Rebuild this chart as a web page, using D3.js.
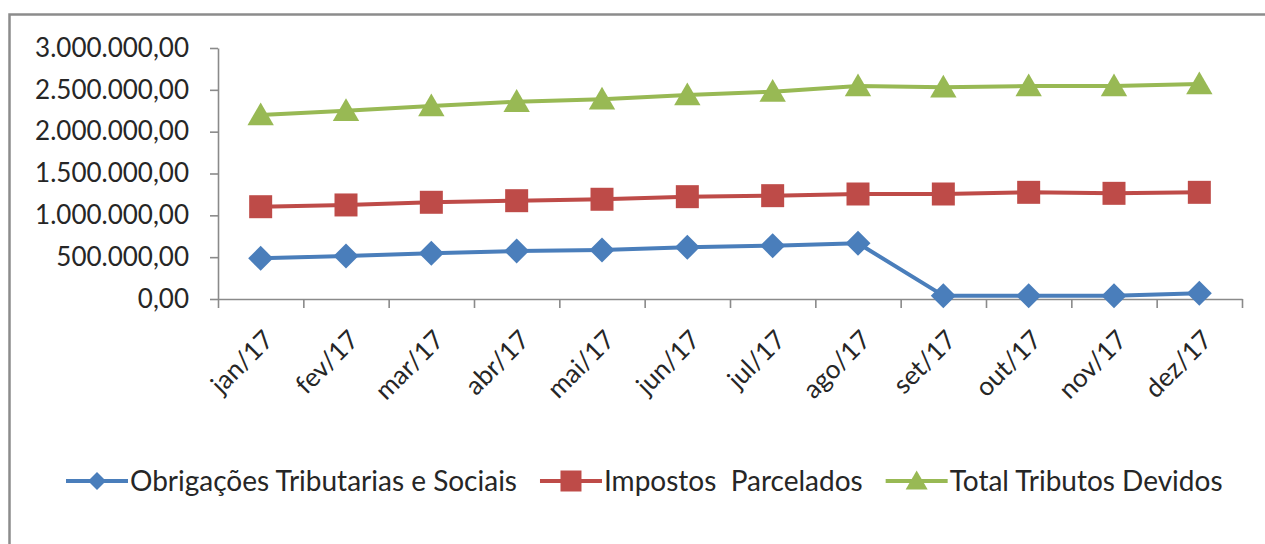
<!DOCTYPE html>
<html lang="pt">
<head>
  <meta charset="UTF-8">
  <title>Tributos 2017</title>
  <style>
    body { margin: 0; background: #fff; }
    svg { display: block; }
    text { font-family: Lato, "Open Sans", sans-serif; fill: #262626; }
    .axis path, .axis line { stroke: #8a8a8a; stroke-width: 1.6; }
  </style>
</head>
<body>
  <svg id="chart" width="1265" height="544"></svg>
  <script src="https://d3js.org/d3.v7.min.js"></script>
  <script>
    // data
    const months = ["jan/17", "fev/17", "mar/17", "abr/17", "mai/17", "jun/17",
                    "jul/17", "ago/17", "set/17", "out/17", "nov/17", "dez/17"];
    const obrigacoes = [486000, 514000, 546000, 574000, 586000, 618000,
                        637000, 666000, 40000, 40000, 40000, 68000];
    const parcelados = [1103000, 1124000, 1156000, 1175000, 1192000, 1223000,
                        1235000, 1255000, 1255000, 1275000, 1263000, 1275000];
    const totalDevidos = [2199000, 2250000, 2307000, 2358000, 2387000, 2438000,
                          2478000, 2546000, 2530000, 2546000, 2546000, 2570000];
    const yTicks = [0, 500000, 1000000, 1500000, 2000000, 2500000, 3000000];
    const seriesNames = ["Obrigações Tributarias e Sociais", "Impostos  Parcelados", "Total Tributos Devidos"];

    const series = [
      { name: seriesNames[0], values: obrigacoes, color: "#4a7ebb", marker: "diamond" },
      { name: seriesNames[1], values: parcelados, color: "#be4b48", marker: "square" },
      { name: seriesNames[2], values: totalDevidos, color: "#98b954", marker: "triangle" }
    ];

    const svg = d3.select("#chart");
    const W = 1265, H = 544;
    const plot = { left: 218, right: 1242, top: 48, bottom: 299 };

    svg.append("rect").attr("width", W).attr("height", H).attr("fill", "#fff");
    // outer frame (only left and top edges visible)
    svg.append("path")
      .attr("d", `M9.5,${H} V14.5 H${W}`)
      .attr("fill", "none")
      .attr("stroke", "#8c8c8c")
      .attr("stroke-width", 2.5);

    const x = d3.scaleBand().domain(months).range([plot.left, plot.right]).padding(0);
    const xEdges = d3.scaleLinear().domain([0, months.length]).range([plot.left, plot.right]);
    const y = d3.scaleLinear().domain([0, 3000000]).range([plot.bottom, plot.top]);

    const ptBR = d3.formatLocale({ decimal: ",", thousands: ".", grouping: [3], currency: ["R$", ""] });
    const fmt = ptBR.format(",.2f");

    // y axis
    const yAxis = svg.append("g")
      .attr("class", "axis")
      .attr("transform", `translate(${plot.left},0)`)
      .call(d3.axisLeft(y).tickValues(yTicks).tickFormat(fmt).tickSize(8).tickPadding(21).tickSizeOuter(0));
    yAxis.selectAll("text").style("font-size", "26px").attr("fill", "#262626");

    // x axis: tick marks on category boundaries
    svg.append("g")
      .attr("class", "axis")
      .attr("transform", `translate(0,${plot.bottom})`)
      .call(d3.axisBottom(xEdges).tickValues(d3.range(months.length + 1)).tickFormat("").tickSize(9).tickSizeOuter(0));

    // x labels, rotated
    const xLab = svg.append("g")
      .attr("transform", `translate(0,${plot.bottom})`)
      .call(d3.axisBottom(x).tickSize(0));
    xLab.select(".domain").remove();
    xLab.selectAll("text")
      .attr("x", 0).attr("y", 0).attr("dy", "0.35em")
      .attr("text-anchor", "end")
      .attr("transform", "translate(8,36) rotate(-45)")
      .style("font-size", "26px")
      .attr("fill", "#262626");

    const cx = d => x(d) + x.bandwidth() / 2;

    const markerPath = (type, s) => {
      if (type === "diamond") return `M0,${-s}L${s},0L0,${s}L${-s},0Z`;
      if (type === "square") return `M${-s},${-s}H${s}V${s}H${-s}Z`;
      return `M0,${-s * 1.05}L${s * 1.1},${s * 0.85}H${-s * 1.1}Z`;
    };

    const line = d3.line().x((d, i) => cx(months[i])).y(d => y(d));

    const g = svg.append("g");
    series.forEach(s => {
      g.append("path")
        .datum(s.values)
        .attr("fill", "none")
        .attr("stroke", s.color)
        .attr("stroke-width", 4)
        .attr("stroke-linejoin", "round")
        .attr("d", line);
    });
    series.forEach(s => {
      const size = s.marker === "diamond" ? 12.5 : s.marker === "square" ? 11.5 : 12;
      g.selectAll(null)
        .data(s.values)
        .join("path")
        .attr("transform", (d, i) => `translate(${cx(months[i])},${y(d)})`)
        .attr("d", markerPath(s.marker, size))
        .attr("fill", s.color);
    });

    // legend
    const legendY = 481;
    let lx = 66;
    series.forEach(s => {
      const item = svg.append("g").attr("transform", `translate(${lx},${legendY})`);
      item.append("line")
        .attr("x1", 0).attr("x2", 62)
        .attr("stroke", s.color).attr("stroke-width", 4);
      const ls = s.marker === "diamond" ? 9 : s.marker === "square" ? 10.5 : 10;
      item.append("path")
        .attr("transform", "translate(31,0)")
        .attr("d", markerPath(s.marker, ls))
        .attr("fill", s.color);
      const t = item.append("text")
        .attr("x", 64).attr("dy", "0.35em")
        .style("font-size", "28px")
        .style("white-space", "pre")
        .attr("xml:space", "preserve")
        .text(s.name);
      lx += 64 + t.node().getComputedTextLength() + 23;
    });
  </script>
</body>
</html>
